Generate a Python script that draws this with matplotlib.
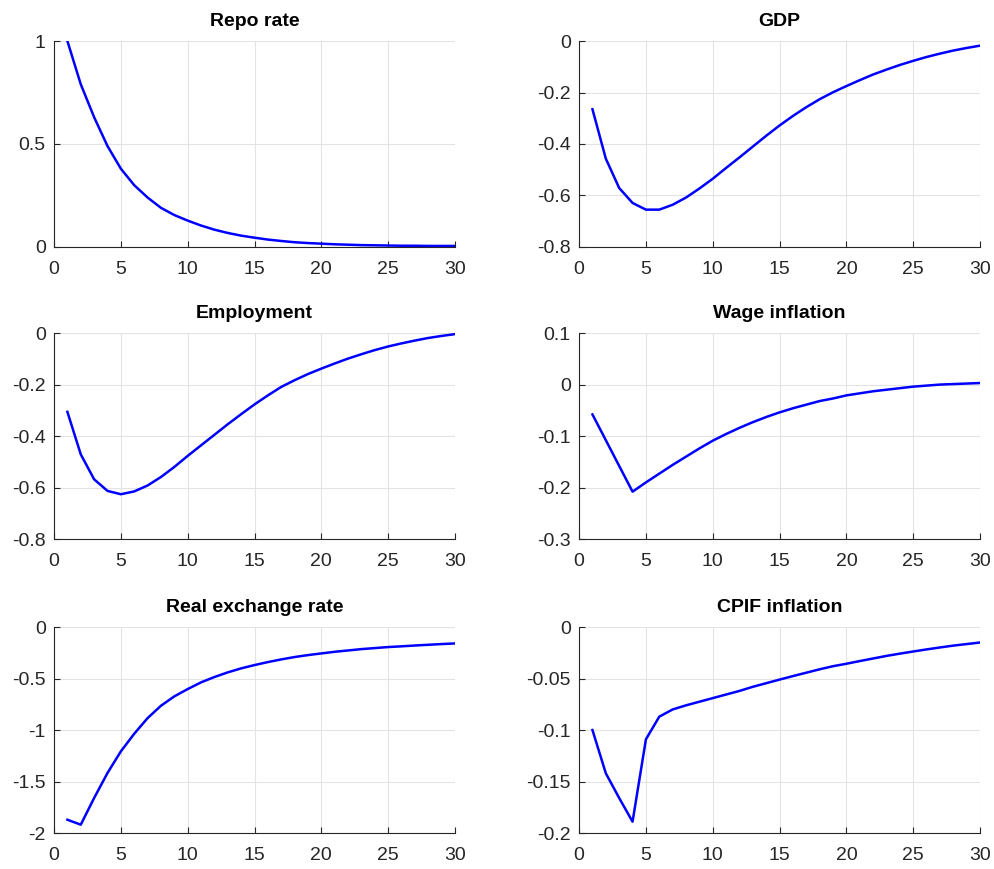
import numpy as np
import matplotlib.pyplot as plt

plt.rcParams['font.family'] = ['Liberation Sans', 'DejaVu Sans']

# Impulse responses, horizon 1..30
t = np.arange(1, 31)

repo_rate = [1.0, 0.79, 0.63, 0.49, 0.38, 0.30, 0.24, 0.19, 0.155, 0.128,
             0.104, 0.084, 0.068, 0.055, 0.045, 0.036, 0.029, 0.023, 0.019, 0.016,
             0.013, 0.011, 0.009, 0.008, 0.007, 0.006, 0.006, 0.005, 0.005, 0.005]

gdp = [-0.265, -0.457, -0.571, -0.629, -0.655, -0.655, -0.636, -0.608, -0.573, -0.535,
       -0.493, -0.452, -0.410, -0.368, -0.328, -0.291, -0.257, -0.226, -0.199, -0.175,
       -0.152, -0.130, -0.111, -0.093, -0.077, -0.062, -0.049, -0.037, -0.027, -0.018]

employment = [-0.306, -0.471, -0.568, -0.613, -0.626, -0.615, -0.592, -0.559, -0.520, -0.477,
              -0.436, -0.395, -0.354, -0.315, -0.277, -0.242, -0.209, -0.183, -0.159, -0.138,
              -0.118, -0.099, -0.082, -0.066, -0.052, -0.040, -0.029, -0.019, -0.011, -0.004]

wage_inflation = [-0.058, -0.108, -0.158, -0.208, -0.190, -0.173, -0.156, -0.140, -0.124, -0.109,
                  -0.096, -0.084, -0.073, -0.063, -0.054, -0.046, -0.039, -0.032, -0.027, -0.021,
                  -0.017, -0.013, -0.010, -0.007, -0.004, -0.002, 0.000, 0.001, 0.002, 0.003]

real_exchange_rate = [-1.871, -1.919, -1.66, -1.417, -1.207, -1.036, -0.884, -0.764, -0.673, -0.602,
                      -0.537, -0.485, -0.440, -0.401, -0.369, -0.340, -0.314, -0.291, -0.272, -0.256,
                      -0.240, -0.227, -0.214, -0.204, -0.194, -0.187, -0.179, -0.172, -0.165, -0.159]

cpif_inflation = [-0.100, -0.142, -0.166, -0.189, -0.109, -0.087, -0.080, -0.076, -0.0725, -0.069,
                  -0.0655, -0.062, -0.058, -0.0545, -0.051, -0.0476, -0.0443, -0.041, -0.038, -0.0356,
                  -0.033, -0.0305, -0.028, -0.0258, -0.0237, -0.0217, -0.0198, -0.018, -0.0165, -0.015]

titles = ['Repo rate', 'GDP', 'Employment', 'Wage inflation',
          'Real exchange rate', 'CPIF inflation']
series = [repo_rate, gdp, employment, wage_inflation, real_exchange_rate, cpif_inflation]
ylims = [(0, 1), (-0.8, 0), (-0.8, 0), (-0.3, 0.1), (-2, 0), (-0.2, 0)]
yticks = [[0, 0.5, 1], [-0.8, -0.6, -0.4, -0.2, 0], [-0.8, -0.6, -0.4, -0.2, 0],
          [-0.3, -0.2, -0.1, 0, 0.1], [-2, -1.5, -1, -0.5, 0],
          [-0.2, -0.15, -0.1, -0.05, 0]]
yticklabels = [['0', '0.5', '1'], ['-0.8', '-0.6', '-0.4', '-0.2', '0'],
               ['-0.8', '-0.6', '-0.4', '-0.2', '0'], ['-0.3', '-0.2', '-0.1', '0', '0.1'],
               ['-2', '-1.5', '-1', '-0.5', '0'], ['-0.2', '-0.15', '-0.1', '-0.05', '0']]

fig = plt.figure(figsize=(9.95, 8.69), dpi=100)

lefts = [0.0543, 0.582]
bottoms = [0.7158, 0.3797, 0.0414]
w, h = 0.403, 0.237

for i in range(6):
    r, c = divmod(i, 2)
    ax = fig.add_axes([lefts[c], bottoms[r], w, h])
    ax.plot(t, series[i], color='#0000ff', linewidth=1.8)
    ax.set_xlim(0, 30)
    ax.set_ylim(*ylims[i])
    ax.set_xticks([0, 5, 10, 15, 20, 25, 30])
    ax.set_yticks(yticks[i])
    ax.set_yticklabels(yticklabels[i])
    ax.grid(True, color='#e3e3e3', linewidth=0.8)
    ax.set_axisbelow(True)
    ax.spines['top'].set_visible(False)
    ax.spines['right'].set_visible(False)
    ax.spines['left'].set_color('#262626')
    ax.spines['bottom'].set_color('#262626')
    ax.tick_params(direction='in', length=4, labelsize=14, colors='#262626',
                   labelcolor='#262626')
    ax.tick_params(axis='x', pad=10)
    ax.tick_params(axis='y', pad=6)
    ax.set_title(titles[i], fontsize=14, fontweight='bold', pad=11)

plt.savefig('out.png', dpi=100)
